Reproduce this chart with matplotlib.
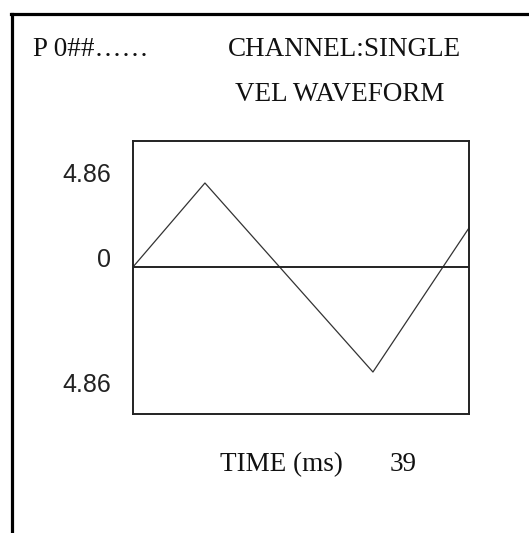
import matplotlib
matplotlib.use("Agg")
import matplotlib.pyplot as plt
from matplotlib.lines import Line2D

# waveform (time in ms, velocity)
time_ms = [0.0, 8.35, 27.85, 39.0]
velocity = [0.0, 4.86, -6.08, 2.26]
x_range = (0, 39)
y_range = (-8.51, 7.29)

# header / label text
header_left = "P 0##\u2026\u2026"
header_right = "CHANNEL:SINGLE"
header_sub = "VEL WAVEFORM"
y_labels = ["4.86", "0", "4.86"]
x_label = "TIME (ms)"
x_value = "39"

W, H = 529, 533
fig = plt.figure(figsize=(W / 100, H / 100), dpi=100)
fig.patch.set_facecolor("white")


def fx(px):
    return px / W


def fy(py):
    return 1 - py / H


# outer frame: only left and top edges visible
fig.add_artist(Line2D([fx(11.5), fx(11.5)], [fy(533), fy(14)], color="black", lw=2.3,
                      transform=fig.transFigure))
fig.add_artist(Line2D([fx(10.5), fx(529)], [fy(14), fy(14)], color="black", lw=2.3,
                      transform=fig.transFigure))

ax = fig.add_axes([fx(133), fy(414), (469 - 133) / W, (414 - 141) / H])
ax.plot(time_ms, velocity, color="#333333", lw=0.9)
ax.axhline(0, color="#222222", lw=1.4)
ax.set_xlim(*x_range)
ax.set_ylim(*y_range)
ax.set_xticks([])
ax.set_yticks([])
for s in ax.spines.values():
    s.set_linewidth(1.4)
    s.set_color("#222222")

serif = dict(family="Liberation Serif", fontsize=19.5, color="#111111", va="baseline")
sans = dict(family="Liberation Sans", fontsize=18, color="#222222", va="baseline", ha="right")

fig.text(fx(33), fy(56), header_left, ha="left", **serif)
fig.text(fx(228), fy(56), header_right, ha="left", **serif)
fig.text(fx(235), fy(101), header_sub, ha="left", **serif)

for lbl, base in zip(y_labels, [182, 267, 392]):
    fig.text(fx(111), fy(base), lbl, **sans)

fig.text(fx(220), fy(471), x_label, ha="left", **serif)
fig.text(fx(390), fy(471), x_value, ha="left", **serif)

fig.savefig("out.png", dpi=100, facecolor="white")
